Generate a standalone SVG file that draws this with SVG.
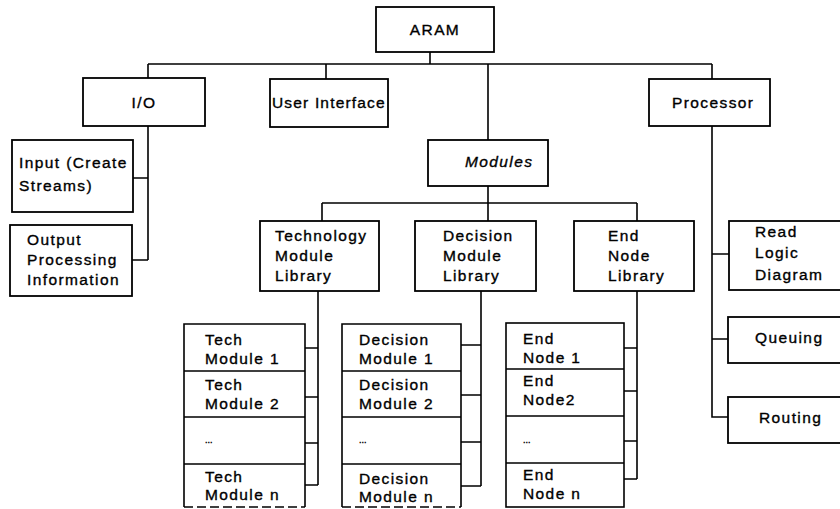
<svg xmlns="http://www.w3.org/2000/svg" width="840" height="509" viewBox="0 0 840 509">
  <style>
    .box { fill: #fff; stroke: #000; stroke-width: 1.8; }
    .cell { fill: none; stroke: #000; stroke-width: 1.6; }
    .wire { fill: none; stroke: #000; stroke-width: 1.6; }
    text { font-family: "Liberation Sans", Arial, Helvetica, sans-serif; font-size: 15.5px; letter-spacing: 1.4px; fill: #000; stroke: #000; stroke-width: 0.35; }
    .mid { text-anchor: middle; }
    .it { font-style: italic; }
    .dots { font-size: 9px; letter-spacing: 0; }
  </style>
  <rect width="840" height="509" fill="#fff"/>

  <!-- tree connectors -->
  <g id="connectors" class="wire">
    <!-- ARAM to top-level bus -->
    <path d="M430 52 V64 M148 64 H712 M148 64 V78 M326 64 V79 M488 64 V140 M712 64 V79"/>
    <!-- I/O branch -->
    <path d="M148 126 V260 M133 178 H148 M132 260 H148"/>
    <!-- Modules bus -->
    <path d="M488 186 V203 M322 203 H637 M322 203 V221 M488 203 V221 M637 203 V221"/>
    <!-- Technology module stack -->
    <path d="M318 291 V485 M305 348 H318 M305 397 H318 M305 443 H318 M305 485 H318"/>
    <!-- Decision module stack -->
    <path d="M481 291 V486 M461 345 H481 M461 395 H481 M461 442 H481 M461 486 H481"/>
    <!-- End node stack -->
    <path d="M637 291 V479 M624 348 H637 M624 391 H637 M624 441 H637 M624 479 H637"/>
    <!-- Processor branch -->
    <path d="M712 126 V417 H729 M712 254 H729 M712 339 H729"/>
  </g>

  <g id="aram">
    <rect class="box" x="376" y="7" width="118" height="45"/>
    <text class="mid" x="435" y="35">ARAM</text>
  </g>

  <g id="io">
    <rect class="box" x="83" y="78" width="122" height="48"/>
    <text class="mid" x="144" y="108">I/O</text>
  </g>

  <g id="user-interface">
    <rect class="box" x="270" y="79" width="118" height="48"/>
    <text x="272" y="108" textLength="114" lengthAdjust="spacing">User Interface</text>
  </g>

  <g id="processor">
    <rect class="box" x="649" y="79" width="121" height="47"/>
    <text x="672" y="108">Processor</text>
  </g>

  <g id="input">
    <rect class="box" x="12" y="140" width="121" height="72"/>
    <text x="19" y="168">Input (Create</text>
    <text x="19" y="191">Streams)</text>
  </g>

  <g id="output">
    <rect class="box" x="10" y="225" width="122" height="71"/>
    <text x="27" y="245">Output</text>
    <text x="27" y="265">Processing</text>
    <text x="27" y="285">Information</text>
  </g>

  <g id="modules">
    <rect class="box" x="428" y="140" width="120" height="46"/>
    <text class="it" x="465" y="167">Modules</text>
  </g>

  <g id="technology-library">
    <rect class="box" x="260" y="221" width="119" height="70"/>
    <text x="275" y="241">Technology</text>
    <text x="275" y="261">Module</text>
    <text x="275" y="281">Library</text>
  </g>

  <g id="decision-library">
    <rect class="box" x="415" y="221" width="121" height="70"/>
    <text x="443" y="241">Decision</text>
    <text x="443" y="261">Module</text>
    <text x="443" y="281">Library</text>
  </g>

  <g id="end-node-library">
    <rect class="box" x="574" y="221" width="120" height="70"/>
    <text x="608" y="241">End</text>
    <text x="608" y="261">Node</text>
    <text x="608" y="281">Library</text>
  </g>

  <g id="tech-modules">
    <path class="cell" d="M184 507 V324 H305 V507 M184 371 H305 M184 417 H305 M184 464 H305"/>
    <path class="cell" d="M184 507 H305" stroke-dasharray="9 4"/>
    <text x="205" y="345">Tech</text>
    <text x="205" y="364">Module 1</text>
    <text x="205" y="390">Tech</text>
    <text x="205" y="409">Module 2</text>
    <text class="dots" x="205" y="443">...</text>
    <text x="205" y="482">Tech</text>
    <text x="205" y="500">Module n</text>
  </g>

  <g id="decision-modules">
    <path class="cell" d="M342 507 V324 H461 V507 M342 371 H461 M342 417 H461 M342 464 H461"/>
    <path class="cell" d="M342 507 H461" stroke-dasharray="9 4"/>
    <text x="359" y="345">Decision</text>
    <text x="359" y="364">Module 1</text>
    <text x="359" y="390">Decision</text>
    <text x="359" y="409">Module 2</text>
    <text class="dots" x="359" y="443">...</text>
    <text x="359" y="484">Decision</text>
    <text x="359" y="502">Module n</text>
  </g>

  <g id="end-nodes">
    <rect class="cell" x="506" y="323" width="118" height="184"/>
    <path class="cell" d="M506 369 H624 M506 416 H624 M506 463 H624"/>
    <text x="523" y="344">End</text>
    <text x="523" y="363">Node 1</text>
    <text x="523" y="386">End</text>
    <text x="523" y="405">Node2</text>
    <text class="dots" x="523" y="443">...</text>
    <text x="523" y="480">End</text>
    <text x="523" y="499">Node n</text>
  </g>

  <g id="read-logic-diagram">
    <rect class="box" x="729" y="221" width="115" height="69"/>
    <text x="755" y="237">Read</text>
    <text x="755" y="258">Logic</text>
    <text x="755" y="280">Diagram</text>
  </g>

  <g id="queuing">
    <rect class="box" x="728" y="317" width="116" height="46"/>
    <text x="755" y="343">Queuing</text>
  </g>

  <g id="routing">
    <rect class="box" x="728" y="397" width="116" height="46"/>
    <text x="759" y="423">Routing</text>
  </g>
</svg>
